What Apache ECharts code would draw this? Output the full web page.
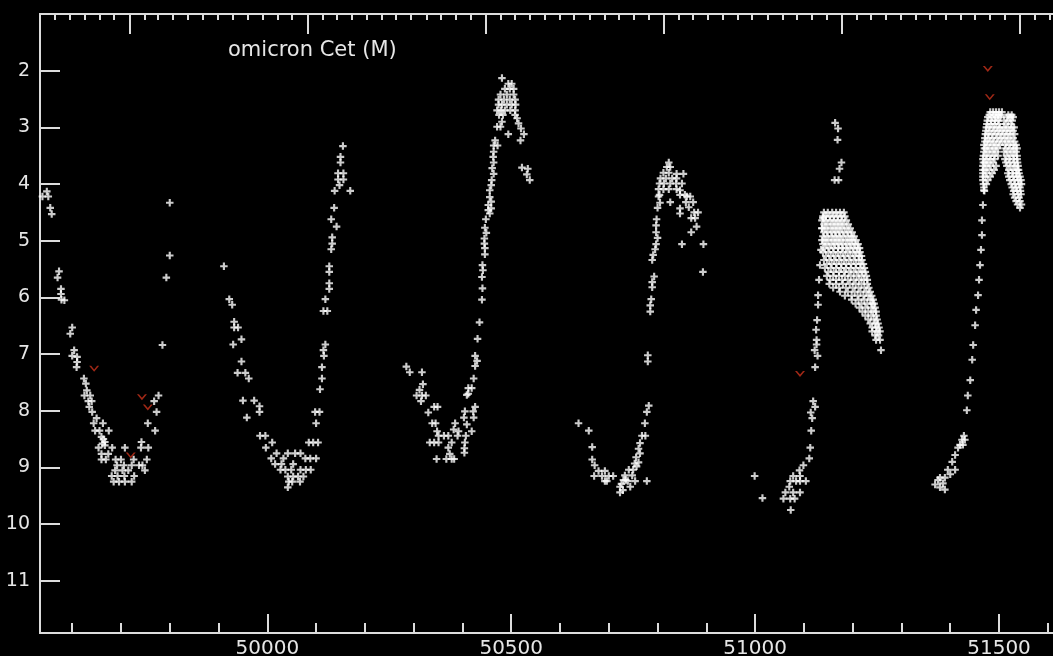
<!DOCTYPE html>
<html><head><meta charset="utf-8">
<script src="https://cdn.jsdelivr.net/npm/echarts@6/dist/echarts.min.js"></script>
<style>html,body{margin:0;padding:0;background:#000}#c{width:1053px;height:656px}</style>
</head><body><div id="c"></div>
<script>
const chartTitle = 'omicron Cet (M)';
const xMajorTicks = [50000, 50500, 51000, 51500];
const xMinorTicks = [49600,49700,49800,49900,50100,50200,50300,50400,50600,50700,50800,50900,51100,51200,51300,51400,51600];
const yTicks = [2,3,4,5,6,7,8,9,10,11];
const xRange = [49534, 51625];
const yRange = [1.0, 11.92];

// [JD-2400000, magnitude]
const cycle1 = [[49548,4.13],[49539,4.22],[49551,4.22],[49555,4.42],[49558,4.53],
[49573,5.54],[49570,5.65],[49577,5.85],[49577,5.94],[49578,6.04],[49584,6.05],
[49600,6.53],[49596,6.64],[49604,6.93],[49600,7.03],[49610,7.05],[49610,7.14],[49609,7.23],
[49624,7.43],[49628,7.52],[49630,7.64],[49625,7.73],[49637,7.73],[49633,7.83],[49640,7.83],[49635,7.93],[49641,8.02],
[49650,8.13],[49644,8.22],[49663,8.22],[49647,8.35],[49656,8.35],[49675,8.35],
[49660,8.46],[49667,8.55],[49654,8.65],[49667,8.61],[49682,8.65],[49708,8.65],[49662,8.58],[49664,8.50],
[49660,8.76],[49674,8.76],[49660,8.86],[49669,8.86],
[49689,8.86],[49700,8.86],[49726,8.86],[49742,8.55],[49741,8.65],[49756,8.65],
[49692,8.96],[49706,8.96],[49722,8.96],[49737,8.96],[49753,8.86],[49744,8.96],
[49681,9.15],[49693,9.15],[49707,9.15],[49727,9.15],[49749,9.05],
[49685,9.25],[49696,9.25],[49708,9.25],[49722,9.25],[49688,9.05],[49703,9.05],[49715,9.05],
[49770,8.35],[49755,8.22],[49773,8.02],[49768,7.83],[49777,7.73],
[49785,6.84],[49793,5.65],[49800,5.26],[49800,4.33]];

const cycle2 = [[50155,3.33],[50150,3.52],[50150,3.62],[50145,3.81],[50156,3.81],[50145,3.92],[50156,3.92],[50148,4.02],[50138,4.12],[50170,4.12],
[50137,4.42],[50131,4.62],[50142,4.75],[50133,4.94],[50133,5.05],[50131,5.15],[50127,5.45],[50127,5.55],[50127,5.75],[50127,5.85],
[50119,6.03],[50115,6.24],[50123,6.24],[50119,6.83],[50115,6.93],[50116,7.03],[50112,7.23],[50112,7.43],[50108,7.62],
[50098,8.02],[50107,8.02],[50100,8.22],[50085,8.56],[50094,8.56],[50104,8.56],[50078,8.84],[50088,8.84],[50100,8.84],
[50068,9.04],[50079,9.04],[50089,9.04],[50042,9.16],[50053,9.16],[50063,9.16],[50074,9.16],[50051,9.25],[50067,9.25],[50042,9.35],[50044,9.25],
[49911,5.45],[49922,6.03],[49928,6.13],[49932,6.43],[49932,6.53],[49940,6.53],[49947,6.74],[49930,6.83],
[49947,7.13],[49939,7.33],[49955,7.33],[49962,7.43],[49950,7.82],[49973,7.82],[49984,7.92],[49984,8.02],[49958,8.12],
[49985,8.44],[49996,8.44],[50010,8.56],[49997,8.65],[50019,8.75],[50042,8.75],[50057,8.75],[50068,8.75],
[50008,8.84],[50033,8.84],[50016,8.94],[50029,8.94],[50053,8.94],[50027,9.04],[50037,9.04],[50049,9.04]];

const cycle3 = [[50481,2.13],[50494,2.23],[50501,2.23],[50487,2.32],[50497,2.32],[50505,2.32],
[50478,2.42],[50491,2.42],[50505,2.42],[50474,2.51],[50485,2.51],[50497,2.51],[50508,2.51],
[50474,2.60],[50481,2.60],[50491,2.60],[50501,2.60],[50509,2.60],
[50471,2.70],[50479,2.70],[50487,2.70],[50498,2.70],[50508,2.70],
[50475,2.78],[50483,2.78],[50508,2.78],[50512,2.84],[50481,2.90],[50515,2.93],[50471,2.99],[50478,2.99],[50520,3.02],[50494,3.12],[50526,3.12],[50519,3.23],
[50467,3.23],[50464,3.32],[50472,3.32],[50464,3.43],[50463,3.52],[50464,3.62],[50461,3.72],[50464,3.82],[50460,3.93],[50459,4.02],[50456,4.11],[50456,4.23],[50459,4.31],[50453,4.37],[50459,4.43],[50453,4.46],[50456,4.52],
[50448,4.62],[50446,4.77],[50449,4.86],[50445,4.96],[50445,5.05],[50446,5.13],[50446,5.24],
[50441,5.43],[50442,5.52],[50440,5.64],[50441,5.84],[50440,6.04],
[50435,6.44],[50431,6.73],[50426,7.03],[50430,7.12],[50426,7.21],[50423,7.43],
[50412,7.60],[50419,7.60],[50412,7.70],[50409,7.72],
[50426,7.93],[50405,8.01],[50422,8.01],[50403,8.12],[50423,8.12],[50409,8.24],[50385,8.22],
[50419,8.36],[50407,8.44],[50405,8.56],[50404,8.66],[50404,8.74],
[50382,8.33],[50392,8.36],[50390,8.44],[50371,8.44],[50378,8.56],[50371,8.65],[50374,8.76],[50367,8.85],[50378,8.85],[50383,8.85],[50347,8.85],
[50362,8.44],[50351,8.44],[50348,8.36],[50338,8.22],[50345,8.22],[50333,8.56],[50342,8.56],[50351,8.56],
[50349,7.93],[50342,7.93],[50330,8.03],
[50319,7.53],[50312,7.63],[50306,7.73],[50317,7.73],[50325,7.73],[50315,7.83],
[50285,7.22],[50292,7.32],[50317,7.32],
[50522,3.71],[50534,3.73],[50532,3.83],[50538,3.93]];

const cycle4 = [[50823,3.62],[50819,3.70],[50826,3.70],[50812,3.80],[50823,3.80],[50853,3.82],[50839,3.82],
[50806,3.90],[50817,3.90],[50830,3.90],[50839,3.90],
[50804,3.99],[50813,3.99],[50826,3.99],[50838,3.99],[50850,3.99],
[50802,4.09],[50812,4.09],[50823,4.09],[50839,4.09],[50846,4.11],
[50804,4.19],[50846,4.19],[50856,4.19],[50802,4.22],[50860,4.22],[50867,4.22],
[50826,4.32],[50805,4.33],[50858,4.32],[50873,4.32],
[50800,4.42],[50864,4.41],[50846,4.43],[50846,4.52],[50875,4.50],[50883,4.50],
[50869,4.60],[50877,4.60],[50798,4.62],[50880,4.75],[50869,4.85],[50850,5.06],[50894,5.06],[50893,5.55],
[50797,4.73],[50797,4.85],[50800,4.95],[50797,5.06],[50795,5.15],[50791,5.25],[50789,5.34],[50793,5.63],[50789,5.73],[50789,5.82],[50787,6.03],[50785,6.14],[50785,6.25],
[50780,7.02],[50780,7.13],
[50782,7.91],[50778,8.02],[50774,8.22],[50775,8.44],[50768,8.44],[50764,8.57],[50761,8.67],[50764,8.75],[50756,8.82],[50761,8.91],[50753,8.93],[50750,9.04],[50748,9.14],[50757,8.98],
[50744,9.34],[50739,9.24],[50733,9.14],[50741,9.04],[50730,9.22],[50726,9.29],[50723,9.34],[50729,9.40],[50723,9.44],[50735,9.22],[50754,9.24],[50778,9.24],
[50709,9.15],[50700,9.15],[50692,9.06],[50686,9.15],[50692,9.24],[50679,9.06],[50671,8.96],[50666,8.86],[50670,9.15],[50666,8.64],[50659,8.35],[50638,8.22],[50696,9.24]];

const cycle5 = [[50999,9.15],[51015,9.54],
[51073,9.75],[51058,9.55],[51072,9.55],[51081,9.55],[51062,9.44],[51078,9.44],[51092,9.44],
[51070,9.34],[51084,9.24],[51072,9.24],[51092,9.24],[51104,9.24],[51078,9.15],[51092,9.15],[51091,9.05],[51099,8.96],
[51111,8.84],[51113,8.65],[51115,8.35],[51117,8.13],[51114,8.03],[51123,7.93],[51119,7.83],
[51123,7.23],[51128,7.03],[51122,6.93],[51126,6.83],[51126,6.75],
[51125,6.57],[51127,6.40],[51129,6.13],[51129,5.96],[51131,5.69],[51133,5.43],[51135,5.16],[51137,4.99],[51137,4.78],[51139,4.60],
[51164,2.92],[51170,3.02],[51169,3.22],[51177,3.62],[51173,3.73],[51163,3.93],[51171,3.93],
[51141,4.50],[51149,4.50],[51158,4.50],[51166,4.50],[51174,4.50],[51182,4.50],
[51139,4.57],[51145,4.57],[51153,4.57],[51161,4.57],[51169,4.57],[51177,4.57],[51184,4.57],
[51137,4.64],[51145,4.64],[51154,4.64],[51162,4.64],[51170,4.64],[51178,4.64],[51187,4.64],
[51141,4.71],[51149,4.71],[51158,4.71],[51166,4.71],[51174,4.71],[51182,4.71],[51191,4.71],
[51137,4.78],[51145,4.78],[51154,4.78],[51162,4.78],[51170,4.78],[51178,4.78],[51187,4.78],[51195,4.78],
[51141,4.85],[51149,4.85],[51158,4.85],[51166,4.85],[51174,4.85],[51183,4.85],[51191,4.85],[51199,4.85],
[51139,4.92],[51147,4.92],[51156,4.92],[51164,4.92],[51172,4.92],[51180,4.92],[51189,4.92],[51197,4.92],[51203,4.92],
[51143,4.99],[51151,4.99],[51160,4.99],[51168,4.99],[51176,4.99],[51185,4.99],[51193,4.99],[51200,4.99],[51207,4.99],
[51139,5.06],[51147,5.06],[51156,5.06],[51164,5.06],[51172,5.06],[51180,5.06],[51189,5.06],[51197,5.06],[51205,5.06],[51211,5.06],
[51143,5.13],[51152,5.13],[51161,5.13],[51170,5.13],[51178,5.13],[51186,5.13],[51194,5.13],[51202,5.13],[51210,5.13],[51214,5.13],
[51139,5.20],[51150,5.20],[51160,5.20],[51170,5.20],[51180,5.20],[51190,5.20],[51200,5.20],[51208,5.20],[51215,5.20],
[51145,5.27],[51155,5.27],[51165,5.27],[51175,5.27],[51185,5.27],[51195,5.27],[51205,5.27],[51213,5.27],[51218,5.27],
[51141,5.34],[51152,5.34],[51162,5.34],[51172,5.34],[51182,5.34],[51192,5.34],[51202,5.34],[51212,5.34],[51219,5.34],
[51147,5.41],[51157,5.41],[51167,5.41],[51177,5.41],[51187,5.41],[51197,5.41],[51207,5.41],[51216,5.41],[51222,5.41],
[51143,5.48],[51155,5.48],[51166,5.48],[51176,5.48],[51186,5.48],[51196,5.48],[51206,5.48],[51216,5.48],[51224,5.48],
[51150,5.55],[51161,5.55],[51172,5.55],[51182,5.55],[51192,5.55],[51202,5.55],[51212,5.55],[51220,5.55],[51226,5.55],
[51147,5.62],[51160,5.62],[51172,5.62],[51184,5.62],[51196,5.62],[51208,5.62],[51218,5.62],[51228,5.62],
[51154,5.69],[51166,5.69],[51178,5.69],[51190,5.69],[51202,5.69],[51213,5.69],[51223,5.69],[51230,5.69],
[51152,5.76],[51166,5.76],[51180,5.76],[51194,5.76],[51206,5.76],[51218,5.76],[51230,5.76],
[51160,5.83],[51172,5.83],[51186,5.83],[51200,5.83],[51212,5.83],[51224,5.83],[51233,5.83],
[51174,5.90],[51190,5.90],[51204,5.90],[51216,5.90],[51228,5.90],[51236,5.90],
[51184,5.97],[51198,5.97],[51210,5.97],[51222,5.97],[51232,5.97],[51239,5.97],
[51198,6.04],[51212,6.04],[51224,6.04],[51236,6.04],[51242,6.04],
[51206,6.11],[51218,6.11],[51230,6.11],[51240,6.11],[51244,6.11],
[51214,6.18],[51226,6.18],[51238,6.18],[51246,6.18],
[51220,6.25],[51232,6.25],[51242,6.25],[51248,6.25],
[51226,6.32],[51238,6.32],[51248,6.32],
[51232,6.39],[51243,6.39],[51250,6.39],
[51236,6.46],[51246,6.46],[51252,6.46],
[51240,6.53],[51248,6.53],[51254,6.53],
[51240,6.60],[51250,6.60],[51256,6.60],
[51246,6.67],[51253,6.67],
[51248,6.75],[51256,6.75],[51258,6.93]];

const cycle6 = [[51369,9.30],[51375,9.22],[51379,9.18],[51379,9.35],[51385,9.28],[51389,9.18],[51389,9.39],[51395,9.04],[51400,9.12],[51404,8.90],[51410,8.78],[51410,9.04],[51416,8.65],[51420,8.60],[51424,8.51],[51426,8.60],[51430,8.51],[51428,8.44],
[51434,7.99],[51436,7.73],[51441,7.46],[51445,7.10],[51447,6.84],[51451,6.49],[51453,6.22],[51457,5.96],[51459,5.69],[51461,5.43],[51463,5.16],[51465,4.90],[51465,4.64],[51467,4.37],[51469,4.11],
[51482,2.73],[51488,2.73],[51494,2.73],[51500,2.73],[51506,2.73],
[51480,2.78],[51490,2.78],[51498,2.78],[51504,2.78],[51519,2.78],[51526,2.78],
[51477,2.82],[51486,2.82],[51494,2.82],[51502,2.82],[51516,2.82],[51523,2.82],[51529,2.82],
[51476,2.88],[51484,2.88],[51492,2.88],[51498,2.88],[51510,2.88],[51519,2.88],[51527,2.88],
[51475,2.94],[51483,2.94],[51491,2.94],[51500,2.94],[51514,2.94],[51524,2.94],
[51474,3.00],[51479,3.00],[51487,3.00],[51495,3.00],[51502,3.00],[51510,3.00],[51518,3.00],[51526,3.00],[51531,3.00],
[51473,3.06],[51481,3.06],[51490,3.06],[51498,3.06],[51506,3.06],[51514,3.06],[51522,3.06],[51529,3.06],
[51472,3.12],[51477,3.12],[51485,3.12],[51493,3.12],[51501,3.12],[51509,3.12],[51517,3.12],[51524,3.12],[51532,3.12],
[51471,3.19],[51479,3.19],[51487,3.19],[51496,3.19],[51504,3.19],[51512,3.19],[51520,3.19],[51529,3.19],
[51471,3.25],[51475,3.25],[51482,3.25],[51490,3.25],[51499,3.25],[51507,3.25],[51516,3.25],[51524,3.25],[51532,3.25],
[51469,3.31],[51477,3.31],[51486,3.31],[51494,3.31],[51502,3.31],[51512,3.31],[51520,3.31],[51529,3.31],[51535,3.31],
[51470,3.37],[51473,3.37],[51481,3.37],[51490,3.37],[51498,3.37],[51514,3.37],[51523,3.37],[51531,3.37],[51537,3.37],
[51469,3.43],[51477,3.43],[51486,3.43],[51494,3.43],[51510,3.43],[51518,3.43],[51527,3.43],[51535,3.43],
[51468,3.50],[51473,3.50],[51481,3.50],[51490,3.50],[51498,3.50],[51515,3.50],[51523,3.50],[51531,3.50],[51537,3.50],
[51467,3.56],[51475,3.56],[51483,3.56],[51491,3.56],[51512,3.56],[51520,3.56],[51529,3.56],[51537,3.56],
[51468,3.62],[51471,3.62],[51479,3.62],[51488,3.62],[51514,3.62],[51522,3.62],[51531,3.62],[51538,3.62],
[51467,3.68],[51475,3.68],[51483,3.68],[51494,3.68],[51516,3.68],[51524,3.68],[51533,3.68],[51539,3.68],
[51467,3.75],[51471,3.75],[51480,3.75],[51490,3.75],[51520,3.75],[51529,3.75],[51537,3.75],[51540,3.75],
[51467,3.81],[51475,3.81],[51486,3.81],[51518,3.81],[51527,3.81],[51535,3.81],[51541,3.81],
[51467,3.87],[51472,3.87],[51482,3.87],[51520,3.87],[51529,3.87],[51537,3.87],[51543,3.87],
[51467,3.93],[51477,3.93],[51522,3.93],[51531,3.93],[51539,3.93],[51545,3.93],
[51468,4.00],[51474,4.00],[51525,4.00],[51533,4.00],[51541,4.00],[51546,4.00],
[51469,4.06],[51527,4.06],[51535,4.06],[51543,4.06],
[51470,4.12],[51530,4.12],[51537,4.12],[51544,4.12],
[51529,4.18],[51539,4.18],[51545,4.18],[51532,4.24],[51541,4.24],
[51535,4.30],[51543,4.30],[51538,4.36],[51546,4.36],[51543,4.42]];

const upperLimits = [[49645,7.26],[49743,7.76],[49755,7.94],[49720,8.79],[51092,7.35],[51477,1.97],[51481,2.47]];

// top axis: calendar year / month boundaries expressed in JD-2400000
const topYears = [], topMonths = [];
for (let y = 1994; y <= 2000; y++) {
  for (let m = 0; m < 12; m++) {
    const v = Date.UTC(y, m, 1) / 86400000 + 40586;
    if (v < xRange[0] || v > xRange[1]) continue;
    if (m === 0) topYears.push(v); else topMonths.push(v);
  }
}

const axisColor = '#dcdcdc';
const font = 'DejaVu Sans';
function xAx(position, tickVals, len, withLabels) {
  return {
    type: 'value', position: position, min: xRange[0], max: xRange[1],
    axisLine: { show: true, onZero: false, lineStyle: { color: axisColor, width: 2 } },
    axisTick: { show: true, inside: true, length: len, customValues: tickVals, lineStyle: { color: axisColor, width: 2 } },
    axisLabel: withLabels ? { show: true, customValues: tickVals, margin: 6, color: '#e6e6e6', fontSize: 20, fontFamily: font,
      formatter: function (v) { return String(v); } } : { show: false },
    splitLine: { show: false }
  };
}
const plus = 'path://M2.5,0H4.5V2.5H7V4.5H4.5V7H2.5V4.5H0V2.5H2.5Z';
const chevron = 'path://M0,0L2,0L5,3.6L8,0L10,0L5,6Z';

const chart = echarts.init(document.getElementById('c'));
chart.setOption({
  backgroundColor: '#000',
  animation: false,
  grid: { left: 40, top: 14, width: 1020, height: 619, outerBoundsMode: 'none', containLabel: false },
  graphic: [{ type: 'text', left: 228, top: 40, style: { text: chartTitle, fill: '#e6e6e6', font: '21px "DejaVu Sans"' } }],
  xAxis: [
    xAx('bottom', xMajorTicks, 19, true),
    xAx('bottom', xMinorTicks, 10, false),
    xAx('top', topYears, 20, false),
    xAx('top', topMonths, 6, false)
  ],
  yAxis: {
    type: 'value', inverse: true, min: yRange[0], max: yRange[1],
    axisLine: { show: true, onZero: false, lineStyle: { color: axisColor, width: 2 } },
    axisTick: { show: true, inside: true, length: 20, customValues: yTicks, lineStyle: { color: axisColor, width: 2 } },
    axisLabel: { show: true, customValues: yTicks, margin: 10, color: '#e6e6e6', fontSize: 19, fontFamily: font },
    splitLine: { show: false }
  },
  series: [
    { type: 'scatter', xAxisIndex: 0, symbol: plus, symbolSize: 7.5, itemStyle: { color: '#ffffff' },
      data: [].concat(cycle1, cycle2, cycle3, cycle4, cycle5, cycle6) },
    { type: 'scatter', xAxisIndex: 0, symbol: chevron, symbolSize: [10, 6], itemStyle: { color: '#c8321c' },
      data: upperLimits }
  ]
});
</script>
</body></html>
